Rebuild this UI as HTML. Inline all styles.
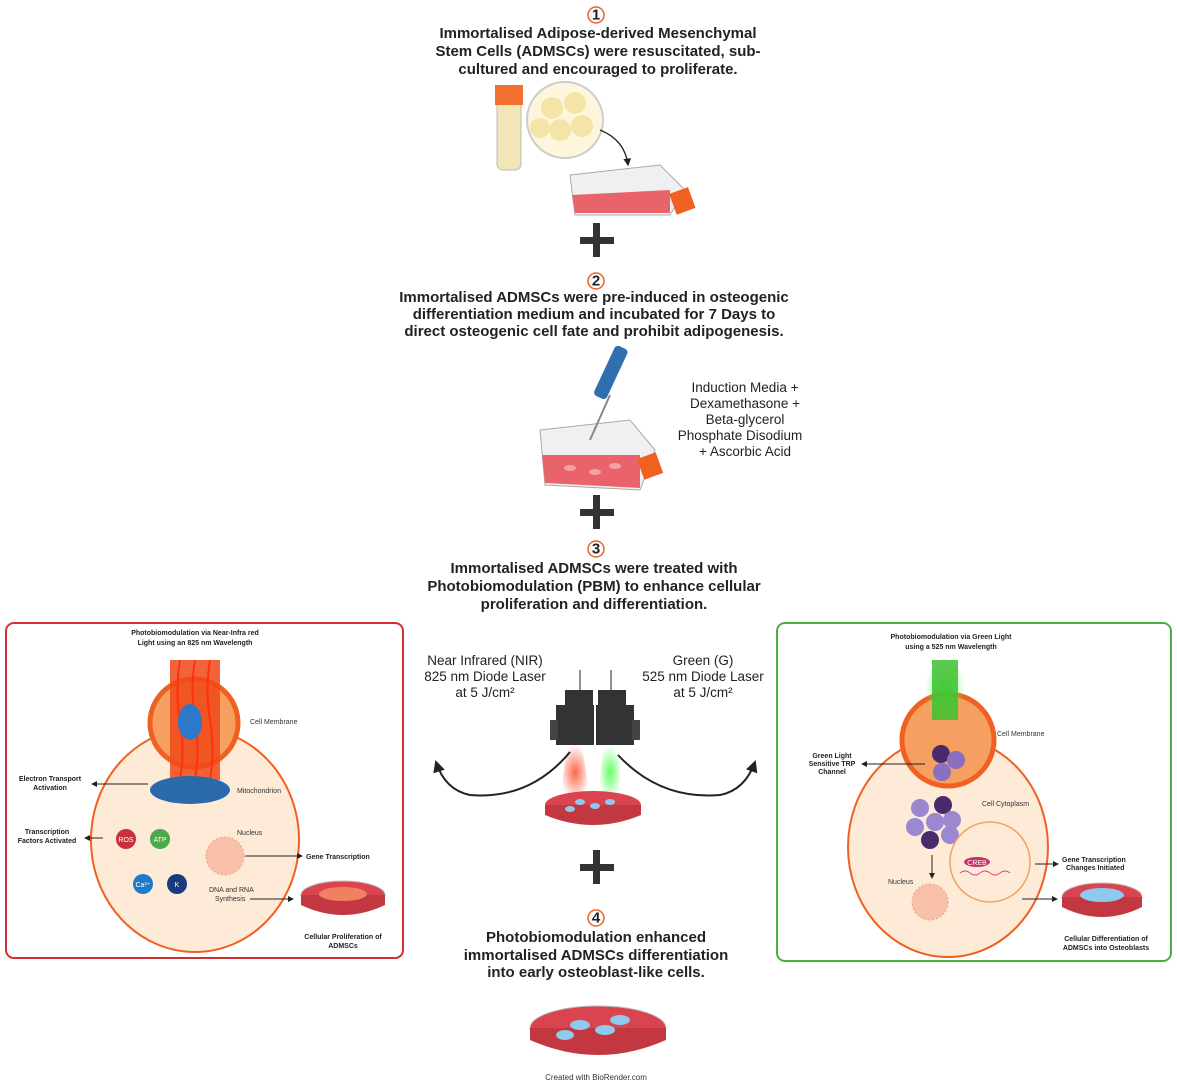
<!DOCTYPE html>
<html><head><meta charset="utf-8"><style>
body{margin:0;background:#fff}
svg{display:block;font-family:"Liberation Sans",Arial,sans-serif}
.h{font-weight:bold;font-size:15px;fill:#222;text-anchor:middle}
.s{font-size:7px;fill:#333}
.sb{font-size:7px;fill:#222;font-weight:bold}
.m{font-size:13.5px;fill:#222;text-anchor:middle}
</style></head><body>
<svg width="1177" height="1085" viewBox="0 0 1177 1085">
<defs>
<marker id="ar" markerWidth="6" markerHeight="6" refX="5" refY="3" orient="auto"><path d="M0,0L6,3L0,6z" fill="#222"/></marker>
<radialGradient id="gl" cx="50%" cy="50%" r="50%"><stop offset="0" stop-color="#5f5" stop-opacity=".9"/><stop offset="1" stop-color="#5f5" stop-opacity="0"/></radialGradient>
<radialGradient id="rl" cx="50%" cy="50%" r="50%"><stop offset="0" stop-color="#f53" stop-opacity=".9"/><stop offset="1" stop-color="#f53" stop-opacity="0"/></radialGradient>
</defs>

<g>
<circle cx="596" cy="15" r="8" fill="#fff" stroke="#f06020" stroke-width="1.5"/>
<text x="596" y="19.5" class="h" font-size="11">1</text>
<text x="598" y="38" class="h">Immortalised Adipose-derived Mesenchymal</text>
<text x="598" y="56" class="h">Stem Cells (ADMSCs) were resuscitated, sub-</text>
<text x="598" y="74" class="h">cultured and encouraged to proliferate.</text>
</g>
<g>
<rect x="497" y="100" width="24" height="70" rx="6" fill="#f2e6b8" stroke="#bbb"/>
<rect x="495" y="85" width="28" height="20" fill="#f07030"/>
<circle cx="565" cy="120" r="38" fill="#fdf6dc" stroke="#ccc" stroke-width="2"/>
<circle cx="552" cy="108" r="11" fill="#f4e4a8"/><circle cx="575" cy="103" r="11" fill="#f4e4a8"/>
<circle cx="560" cy="130" r="11" fill="#f4e4a8"/><circle cx="582" cy="126" r="11" fill="#f4e4a8"/><circle cx="540" cy="128" r="10" fill="#f4e4a8"/>
<path d="M600 130 Q625 140 628 165" fill="none" stroke="#222" stroke-width="1.3" marker-end="url(#ar)"/>
<path d="M570 175 L660 165 L685 190 L670 215 L575 215 Z" fill="#eef0f2" stroke="#aaa"/>
<path d="M572 195 L670 190 L670 213 L575 213 Z" fill="#e8646a"/>
<rect x="672" y="190" width="20" height="22" fill="#f06020" transform="rotate(-20 682 200)"/>
</g>
<g><rect x="580" y="237" width="34" height="7" fill="#333"/><rect x="593" y="223" width="7" height="34" fill="#333"/></g>

<g>
<circle cx="596" cy="281" r="8" fill="#fff" stroke="#f06020" stroke-width="1.5"/>
<text x="596" y="285.5" class="h" font-size="11">2</text>
<text x="594" y="302" class="h">Immortalised ADMSCs were pre-induced in osteogenic</text>
<text x="594" y="319" class="h">differentiation medium and incubated for 7 Days to</text>
<text x="594" y="336" class="h">direct osteogenic cell fate and prohibit adipogenesis.</text>
</g>
<g>
<path d="M540 430 L630 420 L655 450 L640 490 L545 485 Z" fill="#eef0f2" stroke="#aaa"/>
<path d="M542 455 L640 455 L640 488 L545 483 Z" fill="#e8646a"/>
<ellipse cx="570" cy="468" rx="6" ry="3" fill="#f3a0a4"/><ellipse cx="595" cy="472" rx="6" ry="3" fill="#f3a0a4"/><ellipse cx="615" cy="466" rx="6" ry="3" fill="#f3a0a4"/>
<rect x="640" y="455" width="20" height="22" fill="#f06020" transform="rotate(-20 650 466)"/>
<path d="M590 440 L610 395" stroke="#888" stroke-width="2"/>
<rect x="604" y="345" width="14" height="55" rx="4" fill="#2f6fb0" transform="rotate(25 611 372)"/>
<text x="745" y="392" class="m">Induction Media +</text>
<text x="745" y="408" class="m">Dexamethasone +</text>
<text x="745" y="424" class="m">Beta-glycerol</text>
<text x="740" y="440" class="m">Phosphate Disodium</text>
<text x="745" y="456" class="m">+ Ascorbic Acid</text>
</g>
<g><rect x="580" y="509" width="34" height="7" fill="#333"/><rect x="593" y="495" width="7" height="34" fill="#333"/></g>

<g>
<circle cx="596" cy="549" r="8" fill="#fff" stroke="#f06020" stroke-width="1.5"/>
<text x="596" y="553.5" class="h" font-size="11">3</text>
<text x="594" y="573" class="h">Immortalised ADMSCs were treated with</text>
<text x="594" y="591" class="h">Photobiomodulation (PBM) to enhance cellular</text>
<text x="594" y="609" class="h">proliferation and differentiation.</text>
</g>
<g>
<text x="485" y="665" class="m">Near Infrared (NIR)</text>
<text x="485" y="681" class="m">825 nm Diode Laser</text>
<text x="485" y="697" class="m">at 5 J/cm²</text>
<text x="703" y="665" class="m">Green (G)</text>
<text x="703" y="681" class="m">525 nm Diode Laser</text>
<text x="703" y="697" class="m">at 5 J/cm²</text>
<line x1="580" y1="670" x2="580" y2="690" stroke="#222"/><line x1="611" y1="670" x2="611" y2="690" stroke="#222"/>
<rect x="565" y="690" width="28" height="15" fill="#333"/><rect x="598" y="690" width="28" height="15" fill="#333"/>
<rect x="556" y="705" width="38" height="40" fill="#333"/><rect x="596" y="705" width="38" height="40" fill="#333"/>
<rect x="550" y="720" width="8" height="20" fill="#444"/><rect x="632" y="720" width="8" height="20" fill="#444"/>
<polygon points="567,745 582,745 590,800 560,800" fill="url(#rl)"/>
<polygon points="603,745 618,745 622,800 598,800" fill="url(#gl)"/>
<ellipse cx="593" cy="805" rx="48" ry="14" fill="#d9444e"/>
<path d="M545 805 L545 815 Q593 835 641 815 L641 805" fill="#c33840"/>
<ellipse cx="580" cy="802" rx="5" ry="3" fill="#8ec9ee"/><ellipse cx="595" cy="806" rx="5" ry="3" fill="#8ec9ee"/><ellipse cx="610" cy="802" rx="5" ry="3" fill="#8ec9ee"/><ellipse cx="570" cy="809" rx="5" ry="3" fill="#8ec9ee"/>
<path d="M570 752 Q530 800 470 795 Q445 790 436 762" fill="none" stroke="#222" stroke-width="2" marker-end="url(#ar)"/>
<path d="M618 755 Q660 800 720 795 Q745 790 755 762" fill="none" stroke="#222" stroke-width="2" marker-end="url(#ar)"/>
</g>
<g><rect x="580" y="864" width="34" height="7" fill="#333"/><rect x="593" y="850" width="7" height="34" fill="#333"/></g>

<g>
<circle cx="596" cy="918" r="8" fill="#fff" stroke="#f06020" stroke-width="1.5"/>
<text x="596" y="922.5" class="h" font-size="11">4</text>
<text x="596" y="942" class="h">Photobiomodulation enhanced</text>
<text x="596" y="960" class="h">immortalised ADMSCs differentiation</text>
<text x="596" y="977" class="h">into early osteoblast-like cells.</text>
<ellipse cx="598" cy="1028" rx="68" ry="22" fill="#d9444e" stroke="#bbb"/>
<path d="M530 1028 L530 1040 Q598 1070 666 1040 L666 1028" fill="#c33840"/>
<ellipse cx="580" cy="1025" rx="10" ry="5" fill="#8ec9ee"/><ellipse cx="605" cy="1030" rx="10" ry="5" fill="#8ec9ee"/><ellipse cx="620" cy="1020" rx="10" ry="5" fill="#8ec9ee"/><ellipse cx="565" cy="1035" rx="9" ry="5" fill="#8ec9ee"/>
<text x="596" y="1080" font-size="8" fill="#333" text-anchor="middle">Created with BioRender.com</text>
</g>

<g>
<rect x="6" y="623" width="397" height="335" rx="8" fill="#fff" stroke="#d23030" stroke-width="2"/>
<text x="195" y="635" class="sb" text-anchor="middle">Photobiomodulation via Near-Infra red</text>
<text x="195" y="645" class="sb" text-anchor="middle">Light using an 825 nm Wavelength</text>
<ellipse cx="195" cy="840" rx="104" ry="112" fill="#fdebd8" stroke="#f06020" stroke-width="2"/>
<circle cx="194" cy="723" r="44" fill="#f5a060" stroke="#f06020" stroke-width="5"/>
<rect x="170" y="660" width="50" height="120" fill="#f04818" opacity=".85"/>
<path d="M180 660 q-5 30 0 60 q5 30 0 60 M195 660 q-5 30 0 60 q5 30 0 60 M210 660 q-5 30 0 60 q5 30 0 60" stroke="#ff3010" stroke-width="2" fill="none"/>
<ellipse cx="190" cy="722" rx="12" ry="18" fill="#2d78c8"/>
<ellipse cx="190" cy="790" rx="40" ry="14" fill="#2a6aaa"/>
<text x="250" y="724" class="s">Cell Membrane</text>
<text x="237" y="793" class="s">Mitochondrion</text>
<text x="50" y="781" class="sb" text-anchor="middle">Electron Transport</text>
<text x="50" y="790" class="sb" text-anchor="middle">Activation</text>
<line x1="148" y1="784" x2="92" y2="784" stroke="#222" marker-end="url(#ar)"/>
<text x="47" y="834" class="sb" text-anchor="middle">Transcription</text>
<text x="47" y="843" class="sb" text-anchor="middle">Factors Activated</text>
<line x1="103" y1="838" x2="85" y2="838" stroke="#222" marker-end="url(#ar)"/>
<circle cx="126" cy="839" r="10" fill="#c83040"/><text x="126" y="842" class="s" text-anchor="middle" style="fill:#fff">ROS</text>
<circle cx="160" cy="839" r="10" fill="#4ca84a"/><text x="160" y="842" class="s" text-anchor="middle" style="fill:#fff">ATP</text>
<circle cx="143" cy="884" r="10" fill="#1f7ac8"/><text x="143" y="887" class="s" text-anchor="middle" style="fill:#fff">Ca²⁺</text>
<circle cx="177" cy="884" r="10" fill="#1a3a80"/><text x="177" y="887" class="s" text-anchor="middle" style="fill:#fff">K</text>
<circle cx="225" cy="856" r="19" fill="#f8c0a8" stroke="#f4a080" stroke-dasharray="2 2"/>
<text x="237" y="835" class="s">Nucleus</text>
<line x1="245" y1="856" x2="302" y2="856" stroke="#222" marker-end="url(#ar)"/>
<text x="306" y="859" class="sb">Gene Transcription</text>
<text x="209" y="892" class="s">DNA and RNA</text>
<text x="215" y="901" class="s">Synthesis</text>
<line x1="250" y1="899" x2="293" y2="899" stroke="#222" marker-end="url(#ar)"/>
<ellipse cx="343" cy="895" rx="42" ry="14" fill="#d9444e" stroke="#bbb"/>
<path d="M301 895 L301 905 Q343 925 385 905 L385 895" fill="#c33840"/>
<ellipse cx="343" cy="894" rx="24" ry="7" fill="#f08060"/>
<text x="343" y="939" class="sb" text-anchor="middle">Cellular Proliferation of</text>
<text x="343" y="948" class="sb" text-anchor="middle">ADMSCs</text>
</g>

<g>
<rect x="777" y="623" width="394" height="338" rx="8" fill="#fff" stroke="#4cb040" stroke-width="2"/>
<text x="951" y="639" class="sb" text-anchor="middle">Photobiomodulation via Green Light</text>
<text x="951" y="649" class="sb" text-anchor="middle">using a 525 nm Wavelength</text>
<ellipse cx="948" cy="847" rx="100" ry="110" fill="#fdebd8" stroke="#f06020" stroke-width="2"/>
<circle cx="948" cy="740" r="46" fill="#f5a060" stroke="#f06020" stroke-width="5"/>
<rect x="925" y="658" width="40" height="62" fill="url(#gl)"/>
<rect x="932" y="660" width="26" height="60" fill="#40c030" opacity=".85"/>
<circle cx="941" cy="754" r="9" fill="#4a2a6a"/><circle cx="956" cy="760" r="9" fill="#8a70c0"/><circle cx="942" cy="772" r="9" fill="#8a70c0"/>
<text x="997" y="736" class="s">Cell Membrane</text>
<text x="832" y="758" class="sb" text-anchor="middle">Green Light</text>
<text x="832" y="766" class="sb" text-anchor="middle">Sensitive TRP</text>
<text x="832" y="774" class="sb" text-anchor="middle">Channel</text>
<line x1="925" y1="764" x2="862" y2="764" stroke="#222" marker-end="url(#ar)"/>
<text x="982" y="806" class="s">Cell Cytoplasm</text>
<g fill="#9a88d0"><circle cx="920" cy="808" r="9"/><circle cx="943" cy="805" r="9" fill="#4a2a6a"/><circle cx="915" cy="827" r="9"/><circle cx="935" cy="822" r="9"/><circle cx="952" cy="820" r="9"/><circle cx="930" cy="840" r="9" fill="#4a2a6a"/><circle cx="950" cy="835" r="9"/></g>
<line x1="932" y1="855" x2="932" y2="878" stroke="#222" marker-end="url(#ar)"/>
<text x="888" y="884" class="s">Nucleus</text>
<circle cx="930" cy="902" r="18" fill="#f8c0a8" stroke="#f4a080" stroke-dasharray="2 2"/>
<circle cx="990" cy="862" r="40" fill="#fdebd8" stroke="#f4a060" stroke-width="1.5"/>
<ellipse cx="977" cy="862" rx="13" ry="5" fill="#c83068"/><text x="977" y="865" class="s" text-anchor="middle" style="fill:#fff">CREB</text>
<path d="M960 873 q5 -4 10 0 q5 4 10 0 q5 -4 10 0 q5 4 10 0 q5 -4 10 0" stroke="#e04080" fill="none"/>
<line x1="1035" y1="864" x2="1058" y2="864" stroke="#222" marker-end="url(#ar)"/>
<text x="1062" y="862" class="sb">Gene Transcription</text>
<text x="1066" y="870" class="sb">Changes Initiated</text>
<line x1="1022" y1="899" x2="1057" y2="899" stroke="#222" marker-end="url(#ar)"/>
<ellipse cx="1102" cy="897" rx="40" ry="14" fill="#d9444e" stroke="#bbb"/>
<path d="M1062 897 L1062 907 Q1102 927 1142 907 L1142 897" fill="#c33840"/>
<ellipse cx="1102" cy="895" rx="22" ry="7" fill="#8ec9ee"/>
<text x="1106" y="941" class="sb" text-anchor="middle">Cellular Differentiation of</text>
<text x="1106" y="950" class="sb" text-anchor="middle">ADMSCs into Osteoblasts</text>
</g>
</svg>
</body></html>
